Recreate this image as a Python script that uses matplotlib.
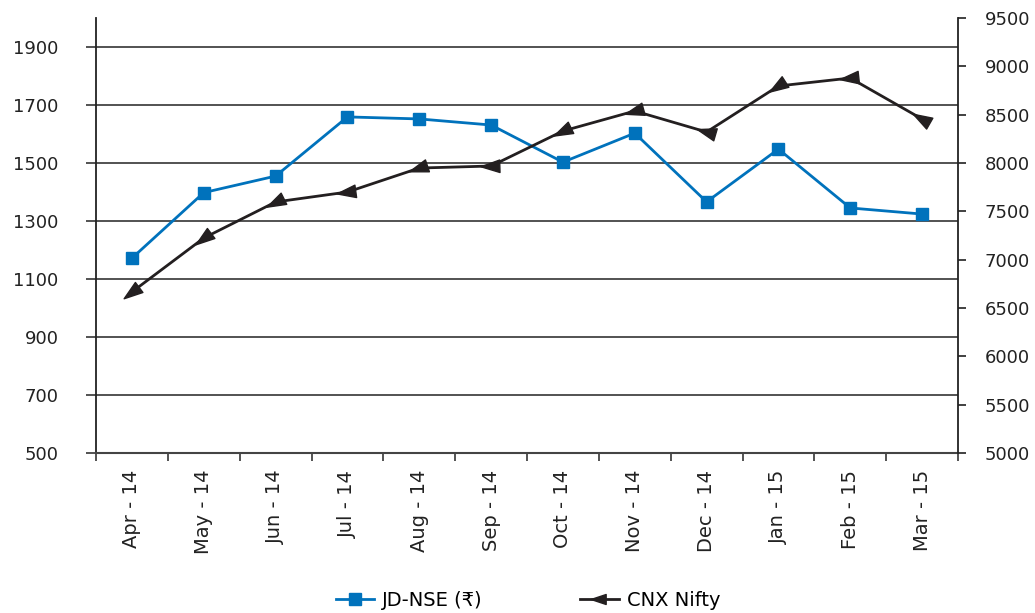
import numpy as np
import matplotlib.pyplot as plt
from matplotlib.markers import MarkerStyle
from matplotlib.transforms import Affine2D
from matplotlib.lines import Line2D
from matplotlib.path import Path

plt.rcParams['font.family'] = ['DejaVu Sans', 'Noto Sans']

months = ['Apr - 14', 'May - 14', 'Jun - 14', 'Jul - 14', 'Aug - 14', 'Sep - 14',
          'Oct - 14', 'Nov - 14', 'Dec - 14', 'Jan - 15', 'Feb - 15', 'Mar - 15']
jd_nse = [1172, 1398, 1455, 1659, 1652, 1631, 1503, 1603, 1366, 1548, 1345, 1324]
cnx_nifty = [6666, 7224, 7597, 7700, 7948, 7969, 8331, 8538, 8321, 8797, 8879, 8455]

left_ticks = [500, 700, 900, 1100, 1300, 1500, 1700, 1900]
right_ticks = [5000, 5500, 6000, 6500, 7000, 7500, 8000, 8500, 9000, 9500]

blue = '#0072BC'
grid_col = '#444444'
dark = '#231F20'

# narrow arrow-like triangle pointing left
arrow = Path([(-1, 0), (0.8, 0.6), (0.8, -0.6), (-1, 0)],
             [Path.MOVETO, Path.LINETO, Path.LINETO, Path.CLOSEPOLY])

fig = plt.figure(figsize=(10.35, 6.13), dpi=100)
ax = fig.add_axes([0.0928, 0.261, 0.8328, 0.7096])
ax2 = ax.twinx()

x = np.arange(len(months))

ax.set_xlim(-0.5, len(months) - 0.5)
ax.set_ylim(500, 2000)
ax2.set_ylim(5000, 9500)

# gridlines from the left axis
for v in left_ticks[1:]:
    ax.axhline(v, color=grid_col, lw=1.3, zorder=1)

ax.plot(x, jd_nse, color=blue, lw=2, marker='s', markersize=9, zorder=3)

# CNX line with triangles pointing back along the line
ax2.plot(x, cnx_nifty, color=dark, lw=2, zorder=3)
pts = ax2.transData.transform(np.column_stack([x, cnx_nifty]))
for i in range(len(x)):
    if i == 0:
        d = pts[0] - pts[1]
    else:
        d = pts[i - 1] - pts[i]
    ang = np.degrees(np.arctan2(d[1], d[0]))
    m = MarkerStyle(arrow, transform=Affine2D().rotate_deg(ang - 180))
    ax2.plot(x[i], cnx_nifty[i], marker=m, color=dark, markersize=15,
             linestyle='none', zorder=4)

# x axis: ticks at category boundaries, labels at centers
ax.set_xticks(np.arange(-0.5, len(months), 1.0))
ax.set_xticklabels([])
ax.set_xticks(x, minor=True)
ax.set_xticklabels(months, minor=True, rotation=90, fontsize=14, color='#222222')
ax.tick_params(axis='x', which='major', length=6, width=1.3, color=grid_col, direction='out')
ax.tick_params(axis='x', which='minor', length=0, pad=12)

ax.set_yticks(left_ticks)
ax.tick_params(axis='y', length=7, width=1.3, color=grid_col, labelsize=13,
               labelcolor='#222222', pad=20)
ax2.set_yticks(right_ticks)
ax2.tick_params(axis='y', length=6, width=1.3, color='#333333', labelsize=13,
                labelcolor='#222222', pad=13)

for a in (ax, ax2):
    a.spines['top'].set_visible(False)
ax.spines['right'].set_visible(False)
ax2.spines['left'].set_visible(False)
ax2.spines['bottom'].set_visible(False)
ax.spines['left'].set_color('#222222')
ax.spines['left'].set_linewidth(1.3)
ax.spines['bottom'].set_color(grid_col)
ax.spines['bottom'].set_linewidth(1.5)
ax2.spines['right'].set_color('#222222')
ax2.spines['right'].set_linewidth(1.3)

handles = [Line2D([], [], color=blue, lw=2, marker='s', markersize=8),
           Line2D([], [], color=dark, lw=2, marker=arrow, markersize=12)]
fig.legend(handles, ['JD-NSE (₹)', 'CNX Nifty'], loc='center', ncol=2,
           bbox_to_anchor=(0.51, 0.02), frameon=False, fontsize=14,
           columnspacing=5, handlelength=2, handletextpad=0.4)

fig.savefig('out.png', dpi=100)
